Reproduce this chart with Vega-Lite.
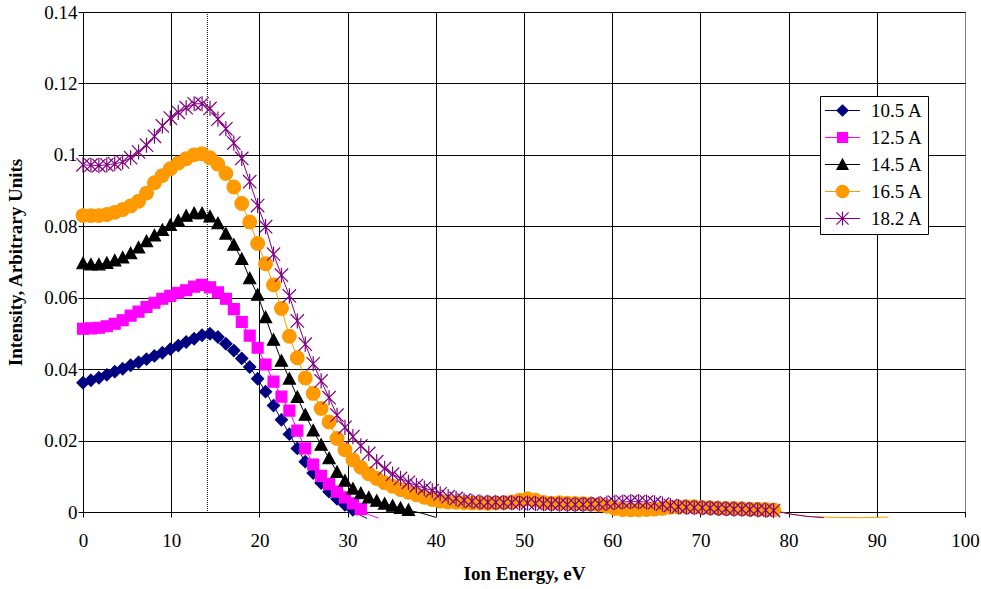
{
"$schema": "https://vega.github.io/schema/vega-lite/v6.json",
"width": 882, "height": 500,
"autosize": {"type": "none"},
"padding": {"left": 83, "top": 12, "right": 16, "bottom": 77},
"background": "white",
"config": {
 "font": "Liberation Serif",
 "view": {"stroke": "#808080", "strokeWidth": 1},
 "axis": {"labelFont": "Liberation Serif", "labelFontSize": 19, "labelColor": "#000", "titleFont": "Liberation Serif", "titleFontSize": 19, "titleFontWeight": "bold", "titleColor": "#000", "domainColor": "#000", "tickColor": "#000", "gridColor": "#000", "gridOpacity": 1, "tickSize": 5, "domainWidth": 1, "tickWidth": 1, "gridWidth": 1, "labelFlush": false},
 "legend": {"orient": "none", "legendX": 737, "legendY": 84, "strokeColor": "#000", "fillColor": "#fff", "padding": 5, "rowPadding": 7, "labelFont": "Liberation Serif", "labelFontSize": 19, "labelColor": "#000", "symbolSize": 190, "symbolStrokeWidth": 1.2, "symbolOffset": 8, "labelOffset": 19, "symbolOpacity": 1}
},
"resolve": {"scale": {"color": "independent", "stroke": "independent", "shape": "independent"}},
"datasets": {
"pts": [
{"s":"10.5 A","x":0,"y":0.0362},{"s":"10.5 A","x":0.9,"y":0.0369},{"s":"10.5 A","x":1.8,"y":0.0376},{"s":"10.5 A","x":2.7,"y":0.0384},{"s":"10.5 A","x":3.6,"y":0.0393},{"s":"10.5 A","x":4.5,"y":0.0401},{"s":"10.5 A","x":5.4,"y":0.0411},{"s":"10.5 A","x":6.3,"y":0.0419},{"s":"10.5 A","x":7.2,"y":0.0428},{"s":"10.5 A","x":8.1,"y":0.0437},{"s":"10.5 A","x":9,"y":0.0446},{"s":"10.5 A","x":9.9,"y":0.0456},{"s":"10.5 A","x":10.8,"y":0.0466},{"s":"10.5 A","x":11.7,"y":0.0476},{"s":"10.5 A","x":12.6,"y":0.0485},{"s":"10.5 A","x":13.5,"y":0.0495},{"s":"10.5 A","x":14.4,"y":0.0499},{"s":"10.5 A","x":15.3,"y":0.049},{"s":"10.5 A","x":16.2,"y":0.0471},{"s":"10.5 A","x":17.1,"y":0.0452},{"s":"10.5 A","x":18,"y":0.043},{"s":"10.5 A","x":18.9,"y":0.0406},{"s":"10.5 A","x":19.8,"y":0.0373},{"s":"10.5 A","x":20.7,"y":0.0337},{"s":"10.5 A","x":21.6,"y":0.0298},{"s":"10.5 A","x":22.5,"y":0.0258},{"s":"10.5 A","x":23.4,"y":0.0218},{"s":"10.5 A","x":24.3,"y":0.0178},{"s":"10.5 A","x":25.2,"y":0.0141},{"s":"10.5 A","x":26.1,"y":0.0109},{"s":"10.5 A","x":27,"y":0.0081},{"s":"10.5 A","x":27.9,"y":0.0057},{"s":"10.5 A","x":28.8,"y":0.0037},{"s":"10.5 A","x":29.7,"y":0.002},{"s":"10.5 A","x":30.6,"y":0.0006},
{"s":"12.5 A","x":0,"y":0.0513},{"s":"12.5 A","x":0.9,"y":0.0514},{"s":"12.5 A","x":1.8,"y":0.0516},{"s":"12.5 A","x":2.7,"y":0.052},{"s":"12.5 A","x":3.6,"y":0.0527},{"s":"12.5 A","x":4.5,"y":0.0537},{"s":"12.5 A","x":5.4,"y":0.055},{"s":"12.5 A","x":6.3,"y":0.0561},{"s":"12.5 A","x":7.2,"y":0.0574},{"s":"12.5 A","x":8.1,"y":0.0586},{"s":"12.5 A","x":9,"y":0.0597},{"s":"12.5 A","x":9.9,"y":0.0605},{"s":"12.5 A","x":10.8,"y":0.0614},{"s":"12.5 A","x":11.7,"y":0.0621},{"s":"12.5 A","x":12.6,"y":0.0631},{"s":"12.5 A","x":13.5,"y":0.0636},{"s":"12.5 A","x":14.4,"y":0.0629},{"s":"12.5 A","x":15.3,"y":0.0615},{"s":"12.5 A","x":16.2,"y":0.0597},{"s":"12.5 A","x":17.1,"y":0.0568},{"s":"12.5 A","x":18,"y":0.0532},{"s":"12.5 A","x":18.9,"y":0.0494},{"s":"12.5 A","x":19.8,"y":0.046},{"s":"12.5 A","x":20.7,"y":0.0413},{"s":"12.5 A","x":21.6,"y":0.0365},{"s":"12.5 A","x":22.5,"y":0.0323},{"s":"12.5 A","x":23.4,"y":0.0284},{"s":"12.5 A","x":24.3,"y":0.0228},{"s":"12.5 A","x":25.2,"y":0.0178},{"s":"12.5 A","x":26.1,"y":0.0133},{"s":"12.5 A","x":27,"y":0.0101},{"s":"12.5 A","x":27.9,"y":0.0078},{"s":"12.5 A","x":28.8,"y":0.0057},{"s":"12.5 A","x":29.7,"y":0.0041},{"s":"12.5 A","x":30.6,"y":0.0024},{"s":"12.5 A","x":31.5,"y":0.0008},
{"s":"14.5 A","x":0,"y":0.0696},{"s":"14.5 A","x":0.9,"y":0.0693},{"s":"14.5 A","x":1.8,"y":0.0693},{"s":"14.5 A","x":2.7,"y":0.0697},{"s":"14.5 A","x":3.6,"y":0.0704},{"s":"14.5 A","x":4.5,"y":0.0712},{"s":"14.5 A","x":5.4,"y":0.0724},{"s":"14.5 A","x":6.3,"y":0.074},{"s":"14.5 A","x":7.2,"y":0.0758},{"s":"14.5 A","x":8.1,"y":0.0774},{"s":"14.5 A","x":9,"y":0.0789},{"s":"14.5 A","x":9.9,"y":0.0803},{"s":"14.5 A","x":10.8,"y":0.0816},{"s":"14.5 A","x":11.7,"y":0.0829},{"s":"14.5 A","x":12.6,"y":0.0836},{"s":"14.5 A","x":13.5,"y":0.0836},{"s":"14.5 A","x":14.4,"y":0.0827},{"s":"14.5 A","x":15.3,"y":0.0808},{"s":"14.5 A","x":16.2,"y":0.0779},{"s":"14.5 A","x":17.1,"y":0.0748},{"s":"14.5 A","x":18,"y":0.0708},{"s":"14.5 A","x":18.9,"y":0.0654},{"s":"14.5 A","x":19.8,"y":0.0608},{"s":"14.5 A","x":20.7,"y":0.0545},{"s":"14.5 A","x":21.6,"y":0.0482},{"s":"14.5 A","x":22.5,"y":0.0423},{"s":"14.5 A","x":23.4,"y":0.0373},{"s":"14.5 A","x":24.3,"y":0.0322},{"s":"14.5 A","x":25.2,"y":0.0272},{"s":"14.5 A","x":26.1,"y":0.0228},{"s":"14.5 A","x":27,"y":0.0188},{"s":"14.5 A","x":27.9,"y":0.015},{"s":"14.5 A","x":28.8,"y":0.0112},{"s":"14.5 A","x":29.7,"y":0.0087},{"s":"14.5 A","x":30.6,"y":0.0065},{"s":"14.5 A","x":31.5,"y":0.0052},{"s":"14.5 A","x":32.4,"y":0.004},{"s":"14.5 A","x":33.3,"y":0.0031},{"s":"14.5 A","x":34.2,"y":0.0023},{"s":"14.5 A","x":35.1,"y":0.0017},{"s":"14.5 A","x":36,"y":0.0011},{"s":"14.5 A","x":36.9,"y":0.0005},
{"s":"16.5 A","x":0,"y":0.083},{"s":"16.5 A","x":0.9,"y":0.083},{"s":"16.5 A","x":1.8,"y":0.083},{"s":"16.5 A","x":2.7,"y":0.0833},{"s":"16.5 A","x":3.6,"y":0.0839},{"s":"16.5 A","x":4.5,"y":0.0847},{"s":"16.5 A","x":5.4,"y":0.0857},{"s":"16.5 A","x":6.3,"y":0.087},{"s":"16.5 A","x":7.2,"y":0.0893},{"s":"16.5 A","x":8.1,"y":0.0922},{"s":"16.5 A","x":9,"y":0.0942},{"s":"16.5 A","x":9.9,"y":0.0961},{"s":"16.5 A","x":10.8,"y":0.0977},{"s":"16.5 A","x":11.7,"y":0.0989},{"s":"16.5 A","x":12.6,"y":0.1},{"s":"16.5 A","x":13.5,"y":0.1003},{"s":"16.5 A","x":14.4,"y":0.0992},{"s":"16.5 A","x":15.3,"y":0.0974},{"s":"16.5 A","x":16.2,"y":0.0948},{"s":"16.5 A","x":17.1,"y":0.091},{"s":"16.5 A","x":18,"y":0.0864},{"s":"16.5 A","x":18.9,"y":0.0812},{"s":"16.5 A","x":19.8,"y":0.0752},{"s":"16.5 A","x":20.7,"y":0.0695},{"s":"16.5 A","x":21.6,"y":0.0636},{"s":"16.5 A","x":22.5,"y":0.057},{"s":"16.5 A","x":23.4,"y":0.0492},{"s":"16.5 A","x":24.3,"y":0.0432},{"s":"16.5 A","x":25.2,"y":0.0375},{"s":"16.5 A","x":26.1,"y":0.0332},{"s":"16.5 A","x":27,"y":0.029},{"s":"16.5 A","x":27.9,"y":0.0252},{"s":"16.5 A","x":28.8,"y":0.0206},{"s":"16.5 A","x":29.7,"y":0.0174},{"s":"16.5 A","x":30.6,"y":0.0146},{"s":"16.5 A","x":31.5,"y":0.0125},{"s":"16.5 A","x":32.4,"y":0.0107},{"s":"16.5 A","x":33.3,"y":0.0094},{"s":"16.5 A","x":34.2,"y":0.0082},{"s":"16.5 A","x":35.1,"y":0.0072},{"s":"16.5 A","x":36,"y":0.0063},{"s":"16.5 A","x":36.9,"y":0.0055},{"s":"16.5 A","x":37.8,"y":0.0048},{"s":"16.5 A","x":38.7,"y":0.0041},{"s":"16.5 A","x":39.6,"y":0.0035},{"s":"16.5 A","x":40.5,"y":0.003},{"s":"16.5 A","x":41.4,"y":0.0028},{"s":"16.5 A","x":42.3,"y":0.0027},{"s":"16.5 A","x":43.2,"y":0.0026},{"s":"16.5 A","x":44.1,"y":0.0025},{"s":"16.5 A","x":45,"y":0.0025},{"s":"16.5 A","x":45.9,"y":0.0024},{"s":"16.5 A","x":46.8,"y":0.0025},{"s":"16.5 A","x":47.7,"y":0.0026},{"s":"16.5 A","x":48.6,"y":0.0028},{"s":"16.5 A","x":49.5,"y":0.0033},{"s":"16.5 A","x":50.4,"y":0.0037},{"s":"16.5 A","x":51.3,"y":0.0033},{"s":"16.5 A","x":52.2,"y":0.0027},{"s":"16.5 A","x":53.1,"y":0.0025},{"s":"16.5 A","x":54,"y":0.0026},{"s":"16.5 A","x":54.9,"y":0.0025},{"s":"16.5 A","x":55.8,"y":0.0024},{"s":"16.5 A","x":56.7,"y":0.0023},{"s":"16.5 A","x":57.6,"y":0.0022},{"s":"16.5 A","x":58.5,"y":0.002},{"s":"16.5 A","x":59.4,"y":0.0016},{"s":"16.5 A","x":60.3,"y":0.001},{"s":"16.5 A","x":61.2,"y":0.0007},{"s":"16.5 A","x":62.1,"y":0.0006},{"s":"16.5 A","x":63,"y":0.0006},{"s":"16.5 A","x":63.9,"y":0.0007},{"s":"16.5 A","x":64.8,"y":0.0008},{"s":"16.5 A","x":65.7,"y":0.001},{"s":"16.5 A","x":66.6,"y":0.0013},{"s":"16.5 A","x":67.5,"y":0.0014},{"s":"16.5 A","x":68.4,"y":0.0015},{"s":"16.5 A","x":69.3,"y":0.0015},{"s":"16.5 A","x":70.2,"y":0.0013},{"s":"16.5 A","x":71.1,"y":0.0012},{"s":"16.5 A","x":72,"y":0.0011},{"s":"16.5 A","x":72.9,"y":0.001},{"s":"16.5 A","x":73.8,"y":0.001},{"s":"16.5 A","x":74.7,"y":0.0009},{"s":"16.5 A","x":75.6,"y":0.0008},{"s":"16.5 A","x":76.5,"y":0.0008},{"s":"16.5 A","x":77.4,"y":0.0007},{"s":"16.5 A","x":78.3,"y":0.0006},
{"s":"18.2 A","x":0,"y":0.0972},{"s":"18.2 A","x":0.9,"y":0.0971},{"s":"18.2 A","x":1.8,"y":0.097},{"s":"18.2 A","x":2.7,"y":0.0972},{"s":"18.2 A","x":3.6,"y":0.0975},{"s":"18.2 A","x":4.5,"y":0.098},{"s":"18.2 A","x":5.4,"y":0.0992},{"s":"18.2 A","x":6.3,"y":0.1008},{"s":"18.2 A","x":7.2,"y":0.1027},{"s":"18.2 A","x":8.1,"y":0.1052},{"s":"18.2 A","x":9,"y":0.1081},{"s":"18.2 A","x":9.9,"y":0.1103},{"s":"18.2 A","x":10.8,"y":0.1119},{"s":"18.2 A","x":11.7,"y":0.1132},{"s":"18.2 A","x":12.6,"y":0.1143},{"s":"18.2 A","x":13.5,"y":0.1143},{"s":"18.2 A","x":14.4,"y":0.113},{"s":"18.2 A","x":15.3,"y":0.11},{"s":"18.2 A","x":16.2,"y":0.1073},{"s":"18.2 A","x":17.1,"y":0.1033},{"s":"18.2 A","x":18,"y":0.099},{"s":"18.2 A","x":18.9,"y":0.0925},{"s":"18.2 A","x":19.8,"y":0.0858},{"s":"18.2 A","x":20.7,"y":0.0799},{"s":"18.2 A","x":21.6,"y":0.0722},{"s":"18.2 A","x":22.5,"y":0.0663},{"s":"18.2 A","x":23.4,"y":0.0605},{"s":"18.2 A","x":24.3,"y":0.0535},{"s":"18.2 A","x":25.2,"y":0.047},{"s":"18.2 A","x":26.1,"y":0.0415},{"s":"18.2 A","x":27,"y":0.0367},{"s":"18.2 A","x":27.9,"y":0.032},{"s":"18.2 A","x":28.8,"y":0.0271},{"s":"18.2 A","x":29.7,"y":0.0237},{"s":"18.2 A","x":30.6,"y":0.0211},{"s":"18.2 A","x":31.5,"y":0.0185},{"s":"18.2 A","x":32.4,"y":0.0164},{"s":"18.2 A","x":33.3,"y":0.0141},{"s":"18.2 A","x":34.2,"y":0.0122},{"s":"18.2 A","x":35.1,"y":0.0106},{"s":"18.2 A","x":36,"y":0.0094},{"s":"18.2 A","x":36.9,"y":0.0083},{"s":"18.2 A","x":37.8,"y":0.0074},{"s":"18.2 A","x":38.7,"y":0.0067},{"s":"18.2 A","x":39.6,"y":0.006},{"s":"18.2 A","x":40.5,"y":0.0051},{"s":"18.2 A","x":41.4,"y":0.0043},{"s":"18.2 A","x":42.3,"y":0.0038},{"s":"18.2 A","x":43.2,"y":0.0033},{"s":"18.2 A","x":44.1,"y":0.003},{"s":"18.2 A","x":45,"y":0.0028},{"s":"18.2 A","x":45.9,"y":0.0027},{"s":"18.2 A","x":46.8,"y":0.0027},{"s":"18.2 A","x":47.7,"y":0.0026},{"s":"18.2 A","x":48.6,"y":0.0026},{"s":"18.2 A","x":49.5,"y":0.0025},{"s":"18.2 A","x":50.4,"y":0.0025},{"s":"18.2 A","x":51.3,"y":0.0024},{"s":"18.2 A","x":52.2,"y":0.0023},{"s":"18.2 A","x":53.1,"y":0.0022},{"s":"18.2 A","x":54,"y":0.0022},{"s":"18.2 A","x":54.9,"y":0.0021},{"s":"18.2 A","x":55.8,"y":0.0021},{"s":"18.2 A","x":56.7,"y":0.0021},{"s":"18.2 A","x":57.6,"y":0.0022},{"s":"18.2 A","x":58.5,"y":0.0023},{"s":"18.2 A","x":59.4,"y":0.0025},{"s":"18.2 A","x":60.3,"y":0.0027},{"s":"18.2 A","x":61.2,"y":0.0028},{"s":"18.2 A","x":62.1,"y":0.0029},{"s":"18.2 A","x":63,"y":0.0029},{"s":"18.2 A","x":63.9,"y":0.0028},{"s":"18.2 A","x":64.8,"y":0.0026},{"s":"18.2 A","x":65.7,"y":0.0022},{"s":"18.2 A","x":66.6,"y":0.0018},{"s":"18.2 A","x":67.5,"y":0.0015},{"s":"18.2 A","x":68.4,"y":0.0013},{"s":"18.2 A","x":69.3,"y":0.0012},{"s":"18.2 A","x":70.2,"y":0.0012},{"s":"18.2 A","x":71.1,"y":0.0011},{"s":"18.2 A","x":72,"y":0.001},{"s":"18.2 A","x":72.9,"y":0.0009},{"s":"18.2 A","x":73.8,"y":0.0008},{"s":"18.2 A","x":74.7,"y":0.0008},{"s":"18.2 A","x":75.6,"y":0.0007},{"s":"18.2 A","x":76.5,"y":0.0006},{"s":"18.2 A","x":77.4,"y":0.0005},{"s":"18.2 A","x":78.3,"y":0.0004}
],
"tails": [
{"s":"10.5 A","x":30.6,"y":0.0006},{"s":"10.5 A","x":31.5,"y":-0.001},{"s":"10.5 A","x":32.2,"y":-0.0018},
{"s":"12.5 A","x":31.5,"y":0.0008},{"s":"12.5 A","x":32.5,"y":-0.0008},{"s":"12.5 A","x":33.5,"y":-0.0017},
{"s":"14.5 A","x":36.9,"y":0.0005},{"s":"14.5 A","x":38.5,"y":-0.0004},{"s":"14.5 A","x":40,"y":-0.0015},
{"s":"16.5 A","x":78.3,"y":0.0006},{"s":"16.5 A","x":80,"y":-0.0005},{"s":"16.5 A","x":82,"y":-0.0012},{"s":"16.5 A","x":85,"y":-0.0015},{"s":"16.5 A","x":88,"y":-0.0016},{"s":"16.5 A","x":91.3,"y":-0.0014},
{"s":"18.2 A","x":78.3,"y":0.0004},{"s":"18.2 A","x":80,"y":-0.0005},{"s":"18.2 A","x":82,"y":-0.0012},{"s":"18.2 A","x":84,"y":-0.0016}
]
},
"layer": [
{"data": {"values": [{"e": 14.1}]},
 "mark": {"type": "rule", "color": "#000", "strokeWidth": 1, "strokeDash": [1, 1]},
 "encoding": {"x": {"field": "e", "type": "quantitative", "scale": {"domain": [0, 100], "nice": false, "zero": false},
   "axis": {"title": "Ion Energy, eV", "values": [0,10,20,30,40,50,60,70,80,90,100], "labelPadding": 14, "titlePadding": 14,
     "gridColor": {"condition": {"test": "datum.value === 100", "value": "#808080"}, "value": "#000"}}}}},
{"data": {"name": "tails"},
 "mark": {"type": "line", "strokeWidth": 1},
 "encoding": {"x": {"field": "x", "type": "quantitative"},
   "y": {"field": "y", "type": "quantitative", "scale": {"domain": [0, 0.14], "nice": false, "zero": false},
     "axis": {"title": "Intensity, Arbitrary Units", "values": [0,0.02,0.04,0.06,0.08,0.1,0.12,0.14], "format": "~g", "labelPadding": 1, "titlePadding": 18}},
   "color": {"field": "s", "type": "nominal", "legend": null, "scale": {"domain": ["10.5 A","12.5 A","14.5 A","16.5 A","18.2 A"], "range": ["#000080","#FF00FF","#000000","#FF9900","#800080"]}}}},
{"data": {"name": "pts"},
 "mark": {"type": "line", "strokeWidth": 1},
 "encoding": {"x": {"field": "x", "type": "quantitative"},
   "y": {"field": "y", "type": "quantitative"},
   "color": {"field": "s", "type": "nominal", "legend": null, "scale": {"domain": ["10.5 A","12.5 A","14.5 A","16.5 A","18.2 A"], "range": ["#000080","#FF00FF","#000000","#FF9900","#800080"]}}}},
{"data": {"name": "pts"},
 "mark": {"type": "point", "filled": true, "opacity": 1, "size": 230, "strokeWidth": 1.2},
 "encoding": {"x": {"field": "x", "type": "quantitative"},
   "y": {"field": "y", "type": "quantitative"},
   "color": {"field": "s", "type": "nominal", "legend": null, "scale": {"domain": ["10.5 A","12.5 A","14.5 A","16.5 A","18.2 A"], "range": ["#000080","#FF00FF","#000000","#FF9900","#800080"]}},
   "stroke": {"field": "s", "type": "nominal", "legend": null, "scale": {"domain": ["10.5 A","12.5 A","14.5 A","16.5 A","18.2 A"], "range": ["#000080","#FF00FF","#000000","#FF9900","#800080"]}},
   "shape": {"field": "s", "type": "nominal", "legend": null, "scale": {"domain": ["10.5 A","12.5 A","14.5 A","16.5 A","18.2 A"], "range": ["M0,-0.8L0.8,0L0,0.8L-0.8,0Z","M-0.72,-0.72L0.72,-0.72L0.72,0.72L-0.72,0.72Z","M0,-0.8L0.8,0.7L-0.8,0.7Z","M-0.9,0A0.9,0.9,0,1,1,0.9,0A0.9,0.9,0,1,1,-0.9,0Z","M-0.88,-0.88L0.88,0.88M-0.88,0.88L0.88,-0.88M0,-1L0,1"]}}}},
{"data": {"name": "tails"},
 "mark": {"type": "point", "filled": true, "opacity": 0, "size": 190, "strokeWidth": 1.2},
 "encoding": {"x": {"field": "x", "type": "quantitative"},
   "y": {"field": "y", "type": "quantitative"},
   "color": {"field": "s", "type": "nominal", "legend": {"title": null}, "scale": {"domain": ["10.5 A","12.5 A","14.5 A","16.5 A","18.2 A"], "range": ["#000080","#FF00FF","#000000","#FF9900","#800080"]}},
   "stroke": {"field": "s", "type": "nominal", "legend": {"title": null}, "scale": {"domain": ["10.5 A","12.5 A","14.5 A","16.5 A","18.2 A"], "range": ["#000080","#FF00FF","#000000","#FF9900","#800080"]}},
   "shape": {"field": "s", "type": "nominal", "legend": {"title": null}, "scale": {"domain": ["10.5 A","12.5 A","14.5 A","16.5 A","18.2 A"], "range": ["M-2.55,0L2.55,0M0,-0.8L0.8,0L0,0.8L-0.8,0Z","M-2.55,0L2.55,0M-0.72,-0.72L0.72,-0.72L0.72,0.72L-0.72,0.72Z","M-2.55,0L2.55,0M0,-0.8L0.8,0.7L-0.8,0.7Z","M-2.55,0L2.55,0M-0.9,0A0.9,0.9,0,1,1,0.9,0A0.9,0.9,0,1,1,-0.9,0Z","M-2.55,0L2.55,0M-0.88,-0.88L0.88,0.88M-0.88,0.88L0.88,-0.88M0,-1L0,1"]}}}}
]
}
